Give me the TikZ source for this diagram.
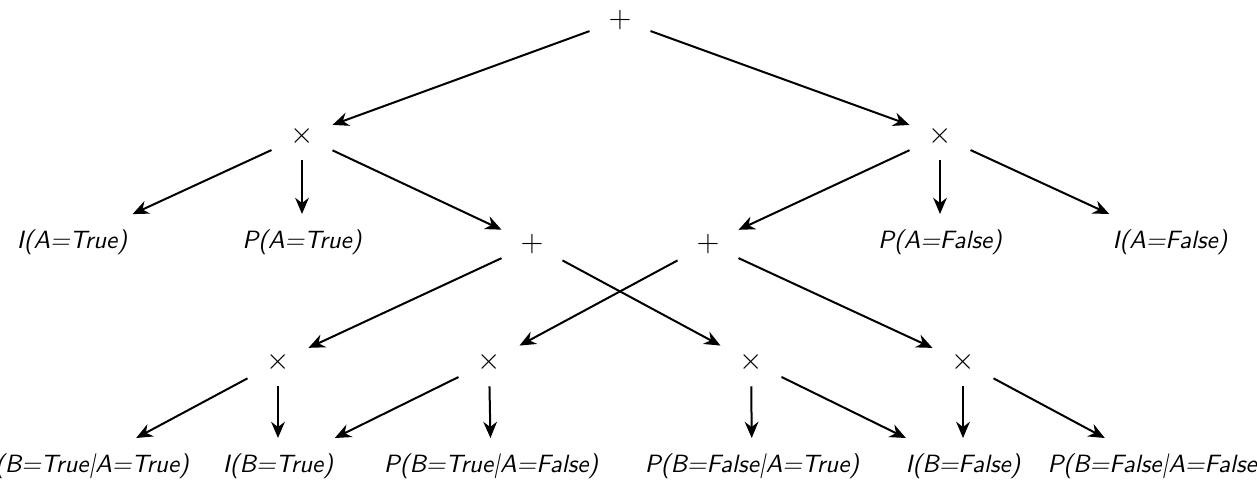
\documentclass[tikz,border=0pt]{standalone}
\usetikzlibrary{arrows.meta}
\tikzset{
  op/.style={minimum width=24pt, minimum height=19pt, inner sep=0pt, font=\large},
  leaf/.style={font=\sffamily\itshape, inner xsep=2pt, inner ysep=6pt},
  edge/.style={-{Stealth[length=6.5pt,width=5.5pt]}, thick}
}
\begin{document}
\begin{tikzpicture}[x=0.4pt,y=-0.4pt]
    \useasboundingbox (0,0) rectangle (1257,487);
    % root
    \node[op] (plus0) at (620,20) {$+$};
    % second level
    \node[op] (timesL) at (302,136) {$\times$};
    \node[op] (timesR) at (940,136) {$\times$};
    % third level
    \node[leaf] (iAT) at (72,242) {I(A=True)};
    \node[leaf] (pAT) at (302,242) {P(A=True)};
    \node[op] (plusL) at (532,244) {$+$};
    \node[op] (plusR) at (708,244) {$+$};
    \node[leaf] (pAF) at (940,242) {P(A=False)};
    \node[leaf] (iAF) at (1170,242) {I(A=False)};
    % fourth level
    \node[op] (tB1) at (278,362) {$\times$};
    \node[op] (tB2) at (489,362) {$\times$};
    \node[op] (tB3) at (751,362) {$\times$};
    \node[op] (tB4) at (963,362) {$\times$};
    % leaves
    \node[leaf] (pBTAT) at (84,466) {P(B=True|A=True)};
    \node[leaf] (iBT) at (278,466) {I(B=True)};
    \node[leaf] (pBTAF) at (491,466) {P(B=True|A=False)};
    \node[leaf] (pBFAT) at (752,466) {P(B=False|A=True)};
    \node[leaf] (iBF) at (963,466) {I(B=False)};
    \node[leaf] (pBFAF) at (1157,466) {P(B=False|A=False)};

    % arrows
    \draw[edge] (plus0) -- (timesL);
    \draw[edge] (plus0) -- (timesR);
    \draw[edge] (timesL) -- (iAT);
    \draw[edge] (timesL) -- (pAT);
    \draw[edge] (timesL) -- (plusL);
    \draw[edge] (timesR) -- (plusR);
    \draw[edge] (timesR) -- (pAF);
    \draw[edge] (timesR) -- (iAF);
    \draw[edge] (plusL) -- (tB1);
    \draw[edge] (plusL) -- (tB3);
    \draw[edge] (plusR) -- (tB2);
    \draw[edge] (plusR) -- (tB4);
    \draw[edge] (tB1) -- (pBTAT);
    \draw[edge] (tB1) -- (iBT);
    \draw[edge] (tB2) -- (iBT);
    \draw[edge] (tB2) -- (pBTAF);
    \draw[edge] (tB3) -- (pBFAT);
    \draw[edge] (tB3) -- (iBF);
    \draw[edge] (tB4) -- (iBF);
    \draw[edge] (tB4) -- (pBFAF);
\end{tikzpicture}
\end{document}
